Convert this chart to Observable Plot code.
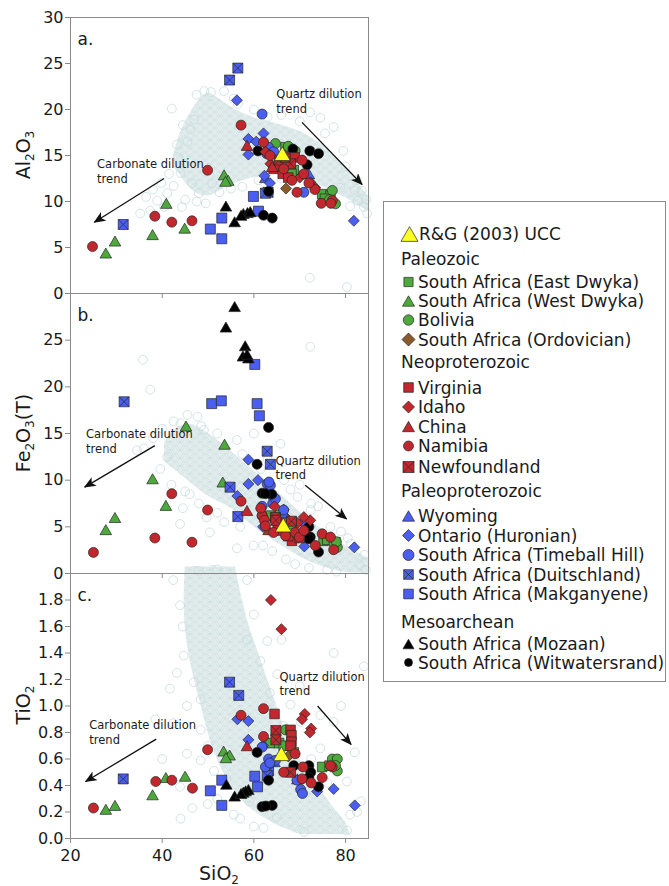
<!DOCTYPE html>
<html><head><meta charset="utf-8">
<script src="https://cdn.jsdelivr.net/npm/d3@7"></script>
<script src="https://cdn.jsdelivr.net/npm/@observablehq/plot@0.6"></script>
<style>
body{margin:0;background:#fff}
#root{position:relative;width:669px;height:886px;overflow:hidden;font-family:"DejaVu Sans",sans-serif;background:#fff}
#root svg{position:absolute;left:0}
</style></head><body><div id="root"></div>
<script>
// ---------------- DATA (SiO2, oxide) ----------------
const xTicks = [20, 40, 60, 80];
const yTicksA = [0, 5, 10, 15, 20, 25, 30];
const yTicksB = [0, 5, 10, 15, 20, 25];
const yTicksC = [0, 0.2, 0.4, 0.6, 0.8, 1.0, 1.2, 1.4, 1.6, 1.8];

const ucc = {a: [[66.2, 15.2]], b: [[66.4, 5.2]], c: [[66.0, 0.64]]};
// Paleozoic
const eastDwyka = {
  a: [[68.7,13.4],[74.9,10.8],[76.7,10.65],[66.9,15.9],[68.2,13.0],[75.5,10.3]],
  b: [[63.6,6.2],[75.2,3.5],[77.8,3.35],[66.5,5.6],[68.5,5.3],[76.0,3.6]],
  c: [[63.6,0.72],[68.7,0.65],[74.9,0.54],[65.5,0.72],[66.5,0.70],[76.5,0.55]]};
const westDwyka = {
  a: [[27.7,4.4],[29.7,5.7],[37.9,6.4],[40.9,9.8],[44.9,7.1],[53.5,12.9],[54.4,12.3],[53.8,12.2]],
  b: [[27.7,4.7],[29.7,6.0],[37.9,10.15],[40.8,7.3],[45.2,15.8],[53.6,13.85],[53.2,9.8]],
  c: [[27.7,0.22],[29.7,0.25],[37.9,0.33],[40.8,0.46],[45.0,0.47],[53.4,0.66],[54.7,0.63],[53.9,0.61]]};
const bolivia = {
  a: [[64.7,16.3],[67.5,16.0],[77.1,11.2],[77.8,9.75],[76.5,10.2],[69.0,15.5]],
  b: [[78.2,2.8],[77.5,3.2],[78.0,3.4],[65.5,6.3],[67.0,5.8]],
  c: [[66.9,0.82],[77.1,0.60],[78.2,0.60],[78.2,0.51],[77.8,0.55]]};
const ordovician = {a: [[67.0,11.4]], b: [[67.2,5.9]], c: [[67.5,0.62]]};
// Neoproterozoic
const virginia = {
  a: [[64.3,13.55],[65.5,14.2],[66.3,13.0],[68.9,14.8],[67.5,12.6]],
  b: [[68.3,3.5],[66.0,4.6],[67.5,4.0],[70.0,3.8],[65.2,5.2]],
  c: [[64.5,0.94],[68.0,0.82],[68.2,0.78],[68.2,0.73],[68.0,0.70]]};
const idaho = {
  a: [[63.6,14.1],[72.3,12.1],[73.4,11.5],[65.0,13.8],[70.0,12.6],[62.5,15.4]],
  b: [[72.3,5.7],[70.9,6.05],[69.5,5.4],[64.5,7.2]],
  c: [[63.7,1.8],[66.0,1.58],[71.1,0.94],[70.5,0.90],[72.5,0.83],[72.2,0.80]]};
const china = {a: [[58.5,16.1],[64.0,13.8]], b: [[58.5,6.75],[63.2,4.7]], c: [[58.5,0.70]]};
const namibia = {
  a: [[24.8,5.1],[38.4,8.4],[42.1,7.75],[46.5,7.9],[49.9,13.4],[57.2,18.3],[62.1,16.45],[66.5,13.55],[70.5,14.5],[70.9,13.0],[68.3,12.3],[69.4,11.0],[73.3,11.3],[74.7,9.8],[77.1,10.1],[63.5,15.0],[72.0,12.0],[76.8,9.8]],
  b: [[25.0,2.26],[38.4,3.8],[42.1,8.55],[46.5,3.35],[49.9,6.8],[57.2,7.75],[61.8,6.2],[62.3,5.7],[62.5,5.1],[64.3,4.4],[66.9,4.05],[69.0,4.4],[69.9,3.9],[74.9,4.25],[76.7,3.9],[77.4,2.55],[73.4,3.0],[70.9,4.6],[61.5,7.0]],
  c: [[25.0,0.23],[38.6,0.43],[42.1,0.44],[46.6,0.38],[49.9,0.67],[57.2,0.93],[62.1,0.98],[62.1,0.77],[66.5,0.50],[69.0,0.64],[70.7,0.54],[70.5,0.45],[74.9,0.46],[77.1,0.54],[76.7,0.55],[72.5,0.42]]};
const newfoundland = {
  a: [[68.0,14.1],[65.5,14.5],[66.8,14.8]],
  b: [[64.7,6.0],[64.8,5.7],[68.2,5.6]],
  c: [[64.8,0.815],[64.8,0.745],[68.0,0.50]]};
// Paleoproterozoic
const wyoming = {a: [[72.0,13.0],[62.5,12.6]], b: [[66.5,6.5]], c: [[64.5,0.58],[69.5,0.45]]};
const ontario = {
  a: [[56.3,21.0],[58.8,16.8],[62.1,17.4],[58.8,15.1],[62.3,12.8],[81.8,7.9],[63.5,12.0],[60.5,16.5]],
  b: [[58.8,12.2],[58.8,9.6],[60.9,10.0],[56.4,8.3],[81.9,2.8],[71.0,2.9],[66.5,6.85],[62.0,5.0]],
  c: [[56.4,0.90],[58.8,0.886],[58.8,0.745],[77.4,0.374],[82.0,0.25],[73.8,0.355],[62.0,0.70]]};
const timeball = {
  a: [[61.8,19.5],[63.2,15.9],[64.3,15.4],[70.9,11.0],[62.8,15.2]],
  b: [[62.9,9.6],[64.2,8.2],[63.6,9.45],[63.3,9.8],[64.1,7.5],[64.7,8.0],[61.8,7.2],[61.8,6.2],[66.5,6.8],[70.9,5.5]],
  c: [[61.8,0.69],[63.2,0.60],[62.5,0.54],[64.7,0.59],[70.2,0.37],[70.6,0.34],[69.4,0.44],[63.5,0.57]]};
const duitschland = {
  a: [[56.5,24.5],[54.7,23.2],[31.5,7.5],[63.1,11.0],[62.5,10.9]],
  b: [[31.7,18.4],[62.9,13.1],[63.6,11.7],[54.8,9.25],[56.5,6.1]],
  c: [[31.5,0.45],[54.7,1.18],[56.7,1.08],[63.2,0.51],[62.9,0.475]]};
const makganyene = {
  a: [[50.5,7.0],[53.0,8.2],[53.0,5.95],[59.9,10.55],[61.0,8.95]],
  b: [[60.2,22.4],[50.8,18.2],[52.9,18.5],[60.7,18.2],[61.2,16.9]],
  c: [[50.5,0.36],[53.0,0.44],[53.0,0.25],[60.2,0.47],[60.8,0.39]]};
// Mesoarchean
const mozaan = {
  a: [[53.9,9.5],[55.8,7.8],[57.7,8.7],[58.6,8.8],[59.2,8.9],[57.2,8.5]],
  b: [[55.8,28.6],[53.9,26.4],[58.1,24.4],[57.6,23.3],[58.8,23.1],[58.5,23.5]],
  c: [[55.8,0.32],[54.0,0.41],[57.7,0.35],[58.8,0.37],[58.2,0.36],[57.2,0.34]]};
const witwatersrand = {
  a: [[60.9,15.5],[68.5,15.7],[72.2,15.5],[74.1,15.2],[71.6,14.0],[62.1,8.5],[64.0,8.2],[63.2,11.1]],
  b: [[63.2,15.65],[60.7,11.7],[61.8,8.6],[63.9,8.5],[72.3,3.9],[74.1,2.3],[72.0,5.0],[72.0,3.7],[62.5,8.55]],
  c: [[60.7,0.65],[68.7,0.55],[72.0,0.55],[72.4,0.50],[72.0,0.46],[74.1,0.39],[61.8,0.24],[64.0,0.25],[63.2,0.44],[62.6,0.245]]};

// Background compilation (light cloud): dense envelopes + sparse outliers
const cloudA_x  = [42.5,44,46,48,50,52,54,56,58,60,62,64,66,68,70,72,74,76,78,80,82,84,85];
const cloudA_hi = [15.0,17.5,19.5,21.0,21.8,21.3,20.6,20.0,19.5,19.1,18.8,18.6,18.3,18.0,17.6,17.1,16.5,15.8,14.8,13.6,12.5,11.2,10.5];
const cloudA_lo = [13.8,12.8,11.5,10.8,10.6,11.0,11.6,12.0,12.3,12.6,12.8,13.0,13.0,12.8,12.5,12.2,11.8,11.4,10.9,10.4,9.8,9.2,9.0];
const cloudA_pts = [[42.1,20.1],[37.4,9.0],[38.9,10.1],[41.1,10.9],[44,13.1],[42.5,11.7],[44.3,9.4],[48,10.9],[50.9,12],[35.2,8.7],[40.4,9.4],[46.2,17.8],[47,18.9],[49.2,22.0],[50.6,21.9],[55.6,21.2],[84.0,9.4],[82.6,10.1],[84.7,8.7],[74.5,19.1],[77.4,18.1],[72.3,19.7],[80.3,0.7],[72.2,1.7],[78.9,11.5],[43.5,14.8],[45.5,16.5],[46.5,12.0],[52.5,11.0],[57.5,11.6],[61,12.3],[66,12.5],[72,11.8],[80,13.8],[82.5,12.3],[83.5,11.2],[38,11.3],[36.5,10.5],[45,10.2],[49.5,9.8],[53.5,22.0],[60,20.0],[66,19.4],[70,18.7],[79.5,15.5],[81,9.5],[47.5,21.6],[44.5,18.3],[43.2,16.2],[56.5,20.6],[63,19.2],[75.5,17.4],[82,11.2],[84.5,10.2],[41.5,13.0],[39.8,12.0],[47.5,10.0],[55,11.4],[77,11.0]];
const cloudB_x  = [40.5,43,46,50,55,58,62,66,70,74,78,82,85];
const cloudB_hi = [14.0,15.5,16.0,15.0,13.1,11.8,10.2,8.4,6.6,5.0,3.6,2.4,1.6];
const cloudB_lo = [12.0,11.0,9.8,8.3,7.0,5.8,4.3,3.0,1.8,0.9,0.3,0.05,0];
const cloudB_pts = [[35.8,22.9],[37.4,19.7],[72.3,24.3],[43.9,5.3],[39.6,11.2],[36,13.4],[34.5,13.2],[41.1,12.5],[44,16.1],[47.7,16.8],[49.1,15.4],[56.3,14.3],[60,15],[65.8,13.9],[66.6,10],[69.5,8.2],[72.4,6.8],[76.7,5.0],[81.2,3.2],[84.1,2.0],[84.4,0.4],[56.3,2.7],[59.9,3.0],[50.4,4.4],[49.7,6.0],[46,8.5],[44.5,7.0],[42,9.5],[53.5,5.5],[62,3.0],[67,1.5],[72,0.6],[78,0.2],[83,1.0],[47,0.3],[49,0.2],[51,0.4],[53,0.15],[38,14.5],[40,15.5],[52,15.0],[70,9.5],[74,7.2],[79,4.5],[63,12.2],[42.5,16.3],[45.5,17.0],[48.5,15.8],[57.5,12.8],[61.5,11.2],[68,9.0],[72.5,7.5],[80.5,3.8],[45,8.8],[48,7.5],[52,6.5],[57,5.0],[64,2.4],[69,1.0],[76,0.4]];
const cloudC_y  = [2.05,1.8,1.6,1.4,1.2,1.0,0.8,0.6,0.4,0.25,0.12,0.03];
const cloudC_x1 = [45.0,44.8,45.0,45.8,47.0,48.5,50.0,52.0,55.0,58.5,64.0,70.0];
const cloudC_x2 = [56.0,57.5,59.0,61.0,63.0,65.0,67.0,70.0,74.0,77.0,80.0,81.0];
const cloudC_pts = [[42.4,1.95],[43.9,1.76],[44.7,1.38],[43.2,1.25],[46.9,1.18],[41.7,1.13],[48.4,1.05],[45.4,1.0],[42.4,0.87],[48.4,0.82],[45.4,0.64],[48.4,0.59],[51.3,0.51],[46.6,0.23],[49.9,0.26],[55.6,0.18],[60.0,0.09],[62.1,0.08],[43.9,0.39],[60,1.69],[62.9,1.49],[61.4,1.34],[65.1,1.24],[68,1.01],[70.2,0.88],[74.5,0.68],[77.4,0.58],[80.3,0.43],[83.3,0.28],[84,1.3],[77.4,1.4],[82.5,0.2],[80.3,0.06],[77.4,0.88],[74.5,0.93],[40,0.6],[38.5,0.9],[44,0.15],[52,0.3],[57,0.15],[66,1.5],[70,1.15],[79,1.0],[82,0.65],[58.5,1.95],[48,2.02],[52,2.03],[44.5,1.6],[58.5,1.5],[63.5,1.1],[66.5,0.85],[72.5,0.6],[76,0.42],[81,0.18],[50,0.7],[54,0.45],[59,0.28],[65,0.16],[71,0.05]];

// Annotations (text baseline positions & arrows in data units)
const notesA = [[64.9,21.3,"Quartz dilution"],[64.9,19.67,"trend"],[25.8,13.6,"Carbonate dilution"],[25.8,11.96,"trend"]];
const arrowsA = [[70.5,18.6,83.6,11.85],[40.4,12.5,25.2,7.75]];
const notesB = [[23.4,14.5,"Carbonate dilution"],[23.4,12.92,"trend"],[64.7,11.6,"Quartz dilution"],[64.7,10.16,"trend"]];
const arrowsB = [[38.4,13.7,23.1,9.26],[71.2,9.45,80.2,5.85]];
const notesC = [[65.6,1.19,"Quartz dilution"],[65.6,1.08,"trend"],[24.1,0.83,"Carbonate dilution"],[24.1,0.715,"trend"]];
const arrowsC = [[73.9,1.0,81.2,0.71],[38.7,0.75,23.3,0.43]];

// ---------------- STYLE ----------------
const GREEN="#4ea93c", RED="#c1272d", BLUE="#4a5ef2", BROWN="#8b5a2b", BLACK="#000000", YELLOW="#ffff22";
const CLOUD_STROKE = "#c8dcdd";
const half = s => Math.sqrt(s/Math.PI);
const SYM = {
  circle: {draw(c,s){const r=half(s); c.moveTo(r,0); c.arc(0,0,r,0,2*Math.PI);}},
  square: {draw(c,s){const r=half(s); c.rect(-r,-r,2*r,2*r);}},
  triangle: {draw(c,s){const r=half(s), h=r*0.866; c.moveTo(0,-h); c.lineTo(r,h); c.lineTo(-r,h); c.closePath();}},
  diamond: {draw(c,s){const r=half(s); c.moveTo(0,-r); c.lineTo(r,0); c.lineTo(0,r); c.lineTo(-r,0); c.closePath();}},
  xsquare: {draw(c,s){const r=half(s); c.rect(-r,-r,2*r,2*r); c.moveTo(-r,-r); c.lineTo(r,r); c.moveTo(r,-r); c.lineTo(-r,r);}}
};
const S = {
  ucc:{label:"R&G (2003) UCC", data:ucc, color:YELLOW, shape:"triangle", r:8, lr:8.5},
  eastDwyka:{label:"South Africa (East Dwyka)", data:eastDwyka, color:GREEN, shape:"square", r:4.8, lr:4.6},
  westDwyka:{label:"South Africa (West Dwyka)", data:westDwyka, color:GREEN, shape:"triangle", r:5.8, lr:6},
  bolivia:{label:"Bolivia", data:bolivia, color:GREEN, shape:"circle", r:5, lr:5.2},
  ordovician:{label:"South Africa (Ordovician)", data:ordovician, color:BROWN, shape:"diamond", r:5.5, lr:6.5},
  virginia:{label:"Virginia", data:virginia, color:RED, shape:"square", r:4.8, lr:4.8},
  idaho:{label:"Idaho", data:idaho, color:RED, shape:"diamond", r:5.5, lr:6},
  china:{label:"China", data:china, color:RED, shape:"triangle", r:5.8, lr:6},
  namibia:{label:"Namibia", data:namibia, color:RED, shape:"circle", r:5, lr:5},
  newfoundland:{label:"Newfoundland", data:newfoundland, color:RED, shape:"xsquare", r:5, lr:5.5},
  wyoming:{label:"Wyoming", data:wyoming, color:BLUE, shape:"triangle", r:5.8, lr:6},
  ontario:{label:"Ontario (Huronian)", data:ontario, color:BLUE, shape:"diamond", r:5.5, lr:6},
  timeball:{label:"South Africa (Timeball Hill)", data:timeball, color:BLUE, shape:"circle", r:5, lr:5.5},
  duitschland:{label:"South Africa (Duitschland)", data:duitschland, color:BLUE, shape:"xsquare", r:5, lr:4.8},
  makganyene:{label:"South Africa (Makganyene)", data:makganyene, color:BLUE, shape:"square", r:5, lr:4.8},
  mozaan:{label:"South Africa (Mozaan)", data:mozaan, color:BLACK, shape:"triangle", r:5.8, lr:5.5},
  witwatersrand:{label:"South Africa (Witwatersrand)", data:witwatersrand, color:BLACK, shape:"circle", r:5, lr:4}
};
const drawOrder = ["westDwyka","eastDwyka","bolivia","ordovician","makganyene","duitschland","wyoming","ontario","timeball","mozaan","witwatersrand","virginia","idaho","china","newfoundland","namibia","ucc"];

const root = document.getElementById("root");
const W = 380, ML = 70, MR = 12;

function makePanel(cfg) {
  const marks = [cfg.cloud,
    Plot.dot(cfg.cloudPts, {x:d=>d[0], y:d=>d[1], r:4.4, symbol:SYM.circle, fill:"none", stroke:CLOUD_STROKE, strokeWidth:0.8})];
  for (const k of drawOrder) {
    const s = S[k];
    marks.push(Plot.dot(s.data[cfg.key], {x:d=>d[0], y:d=>d[1], r:s.r, symbol:SYM[s.shape], fill:s.color, stroke:"#262626", strokeWidth:0.7}));
  }
  marks.push(Plot.link(cfg.arrows, {x1:d=>d[0], y1:d=>d[1], x2:d=>d[2], y2:d=>d[3], stroke:"#111", strokeWidth:1.3}));
  marks.push(Plot.text(cfg.notes, {x:d=>d[0], y:d=>d[1], text:d=>d[2], textAnchor:"start", fontSize:11.5, dy:-3.7, fill:"#1a1a1a"}));
  marks.push(Plot.text([cfg.label], {frameAnchor:"top-left", dx:7, dy:15.5, textAnchor:"start", fontSize:17, fill:"#1a1a1a"}));
  marks.push(Plot.frame({stroke:"#8a8a8a"}));
  marks.push(Plot.axisY({ticks:cfg.yTicks, tickSize:5, tickPadding:2, tickFormat:cfg.yFmt, fontSize:16, label:null}));
  marks.push(Plot.axisX({ticks:xTicks, tickSize:5, tickPadding:6, tickFormat: cfg.xLabels ? (d=>String(d)) : (()=>""), fontSize:16, label:null}));
  const svg = Plot.plot({
    width: W, height: cfg.height, marginLeft: ML, marginRight: MR, marginTop: cfg.mt, marginBottom: cfg.mb,
    x: {domain: [20, 85], label: null}, y: {domain: cfg.yDomain, label: null},
    style: {background: "transparent", fontFamily: '"DejaVu Sans", sans-serif', fontSize: "16px", color: "#1a1a1a", overflow: "visible"},
    marks
  });
  svg.style.top = cfg.top + "px";
  const sel = d3.select(svg);
  const defs = sel.insert("defs", ":first-child");
  const p = defs.append("pattern").attr("id", "cloudPat" + cfg.key).attr("patternUnits", "userSpaceOnUse").attr("width", 10).attr("height", 8);
  p.append("rect").attr("width", 10).attr("height", 8).attr("fill", "#e3eded");
  for (const [cx, cy] of [[5,4],[0,0],[10,0],[0,8],[10,8]])
    p.append("circle").attr("cx", cx).attr("cy", cy).attr("r", 4.4).attr("fill", "none").attr("stroke", "#d0e1e2").attr("stroke-width", 0.7);
  const mk = defs.append("marker").attr("id", "ah" + cfg.key).attr("viewBox", "0 0 12 10").attr("refX", 11).attr("refY", 5)
    .attr("markerWidth", 12).attr("markerHeight", 10).attr("markerUnits", "userSpaceOnUse").attr("orient", "auto");
  mk.append("path").attr("d", "M0,0L12,5L0,10L3,5Z").attr("fill", "#111");
  sel.selectAll('g[aria-label="link"] path').attr("marker-end", `url(#ah${cfg.key})`);
  sel.selectAll('g[aria-label="y-axis tick"], g[aria-label="x-axis tick"]').attr("stroke", "#8a8a8a");
  root.appendChild(svg);
}

const rowsA = cloudA_x.map((x,i)=>({x, lo:cloudA_lo[i], hi:cloudA_hi[i]}));
const rowsB = cloudB_x.map((x,i)=>({x, lo:cloudB_lo[i], hi:cloudB_hi[i]}));
const rowsC = cloudC_y.map((y,i)=>({y, x1:cloudC_x1[i], x2:cloudC_x2[i]}));

makePanel({key:"a", top:0, height:300, mt:17, mb:7, yDomain:[0,30], yTicks:yTicksA, yFmt:d=>String(d), label:"a.",
  cloud: Plot.areaY(rowsA, {x:"x", y1:"lo", y2:"hi", fill:"url(#cloudPata)", curve:"catmull-rom"}),
  cloudPts: cloudA_pts, notes: notesA, arrows: arrowsA});
makePanel({key:"b", top:286, height:294, mt:7, mb:7, yDomain:[0,30], yTicks:yTicksB, yFmt:d=>String(d), label:"b.",
  cloud: Plot.areaY(rowsB, {x:"x", y1:"lo", y2:"hi", fill:"url(#cloudPatb)", curve:"catmull-rom"}),
  cloudPts: cloudB_pts, notes: notesB, arrows: arrowsB});
makePanel({key:"c", top:566, height:320, mt:7, mb:48, yDomain:[0,2], yTicks:yTicksC, yFmt:d3.format(".1f"), label:"c.", xLabels:true,
  cloud: Plot.areaX(rowsC, {y:"y", x1:"x1", x2:"x2", fill:"url(#cloudPatc)", curve:"catmull-rom"}),
  cloudPts: cloudC_pts, notes: notesC, arrows: arrowsC});

// ---------------- overlay: axis titles and legend ----------------
const ov = d3.select(root).append("svg").attr("width", 669).attr("height", 886).style("top", "0px")
  .attr("font-family", '"DejaVu Sans", sans-serif').attr("fill", "#1a1a1a");
function chem(x, y, parts, rotate) {
  const t = ov.append("text").attr("text-anchor", "middle").attr("font-size", 19)
    .attr("transform", `translate(${x},${y})` + (rotate ? " rotate(-90)" : ""));
  let low = false;
  for (const [str, sub] of parts) {
    const ts = t.append("tspan").text(str);
    if (sub && !low) { ts.attr("font-size", 12).attr("dy", 4); low = true; }
    else if (!sub && low) { ts.attr("dy", -4); low = false; }
    else if (sub) ts.attr("font-size", 12);
  }
}
chem(30, 155, [["Al",0],["2",1],["O",0],["3",1]], true);
chem(30, 433, [["Fe",0],["2",1],["O",0],["3",1],["(T)",0]], true);
chem(30, 705, [["Ti",0],["O",0],["2",1]], true);
chem(219, 880, [["Si",0],["O",0],["2",1]], false);

ov.append("rect").attr("x", 383.5).attr("y", 201.5).attr("width", 282).attr("height", 480)
  .attr("fill", "none").attr("stroke", "#8a8a8a");
const legendRows = [
  ["item","ucc",234],["head","Paleozoic",259],["item","eastDwyka",282],["item","westDwyka",301],["item","bolivia",320],["item","ordovician",339.5],
  ["head","Neoproterozoic",362],["item","virginia",387.5],["item","idaho",407],["item","china",426.5],["item","namibia",446],["item","newfoundland",467],
  ["head","Paleoproterozoic",491],["item","wyoming",516],["item","ontario",535.5],["item","timeball",555],["item","duitschland",574.5],["item","makganyene",594],
  ["head","Mesoarchean",622],["item","mozaan",644],["item","witwatersrand",662.5]
];
for (const [type, v, y] of legendRows) {
  if (type === "head") {
    ov.append("text").attr("x", 401).attr("y", y + 6).attr("font-size", 17).text(v);
  } else {
    const s = S[v];
    ov.append("path").attr("transform", `translate(${v==="ucc"?409.5:408.5},${y})`)
      .attr("d", d3.symbol(SYM[s.shape], Math.PI * s.lr * s.lr)())
      .attr("fill", s.color).attr("stroke", "#262626").attr("stroke-width", 0.7);
    ov.append("text").attr("x", v==="ucc" ? 419 : 418).attr("y", y + 6).attr("font-size", 17).text(s.label);
  }
}
</script></body></html>
